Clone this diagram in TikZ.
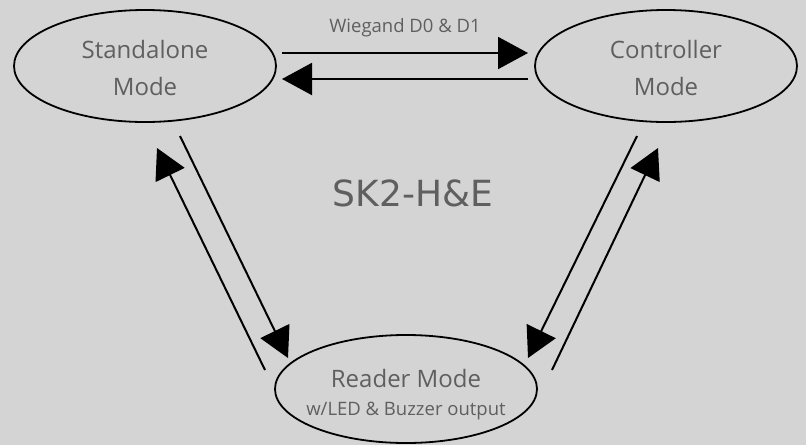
\documentclass[tikz,border=0pt]{standalone}
\usepackage{fontspec}
\setmainfont{Open Sans}
\newfontfamily\titlefont{DejaVu Sans}
\usetikzlibrary{shapes.geometric,arrows.meta}
\definecolor{bg}{RGB}{212,212,212}
\definecolor{txt}{RGB}{95,95,95}
\tikzset{
  modebox/.style={ellipse, draw=black, line width=1.8pt, minimum width=262pt, minimum height=112pt, inner sep=0pt, text=txt, align=center},
  flow/.style={line width=2pt, -{Triangle[length=30pt,width=32pt]}},
}
\begin{document}
\begin{tikzpicture}[x=1pt,y=-1pt]
\fill[bg] (0,0) rectangle (806,445);
\useasboundingbox (0,0) rectangle (806,445);
\node[modebox] (sa) at (145,66) {};
\node[modebox] (ct) at (666,66) {};
\node[modebox, minimum height=108pt] (rd) at (406,389) {};
\node[text=txt, font=\fontsize{24}{37}\selectfont, align=center] (satxt) at (145,68) {Standalone\\Mode};
\node[text=txt, font=\fontsize{24}{37}\selectfont, align=center] (cttxt) at (666,68) {Controller\\Mode};
\node[text=txt, font=\fontsize{24}{28}\selectfont] (rdtxt) at (406,378) {Reader Mode};
\node[text=txt, font=\fontsize{18.5}{22}\selectfont] (rdsub) at (406,411) {w/LED \& Buzzer output};
\node[text=txt, font=\fontsize{18.5}{22}\selectfont] (wl) at (405,28) {Wiegand D0 \& D1};
\node[text=txt, font=\titlefont\fontsize{36}{42}\selectfont] (title) at (413,193) {SK2-H\&E};
% horizontal
\coordinate (h1a) at (282,53); \coordinate (h1b) at (528,53);
\coordinate (h2a) at (528,79); \coordinate (h2b) at (282,79);
\draw[flow] (h1a) -- (h1b);
\draw[flow] (h2a) -- (h2b);
% left diagonal
\coordinate (l1a) at (180,136); \coordinate (l1b) at (288,358);
\coordinate (l2a) at (265,370); \coordinate (l2b) at (157,148);
\draw[flow] (l1a) -- (l1b);
\draw[flow] (l2a) -- (l2b);
% right diagonal
\coordinate (r1a) at (637,136); \coordinate (r1b) at (528,358);
\coordinate (r2a) at (552,370); \coordinate (r2b) at (658,148);
\draw[flow] (r1a) -- (r1b);
\draw[flow] (r2a) -- (r2b);
\end{tikzpicture}
\end{document}
